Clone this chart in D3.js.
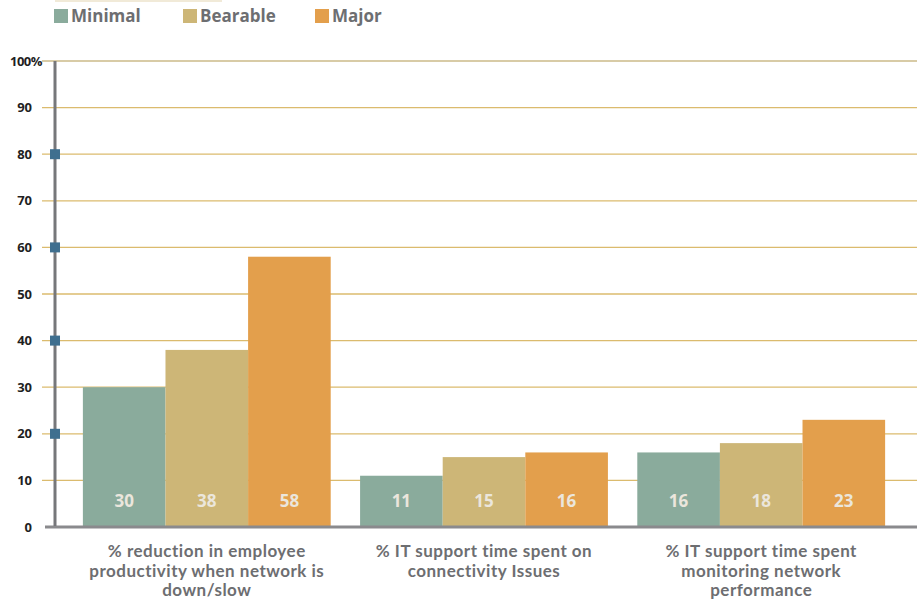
<!DOCTYPE html>
<html>
<head>
<meta charset="utf-8">
<script src="https://cdn.jsdelivr.net/npm/d3@7"></script>
<style>
  html, body { margin: 0; padding: 0; background: #fff; }
  svg { display: block; font-family: "Open Sans", "DejaVu Sans", sans-serif; }
</style>
</head>
<body>
<svg id="chart" width="917" height="602"></svg>
<script>
// Survey categories (each may wrap onto several lines)
const categories = [
  ["% reduction in employee", "productivity when network is", "down/slow"],
  ["% IT support time spent on", "connectivity Issues"],
  ["% IT support time spent", "monitoring network", "performance"]
];
const seriesNames = ["Minimal", "Bearable", "Major"];
const minimalValues  = [30, 11, 16];
const bearableValues = [38, 15, 18];
const majorValues    = [58, 16, 23];
const yTicks = [0, 10, 20, 30, 40, 50, 60, 70, 80, 90, 100];
const markerTicks = [20, 40, 60, 80];

const colors = ["#8aab9c", "#cdb677", "#e39f4c"];
const series = [minimalValues, bearableValues, majorValues];

const svg = d3.select("#chart");

const y = d3.scaleLinear().domain([0, 100]).range([527, 61]);
const x0 = d3.scaleBand().domain(d3.range(categories.length))
  .range([51, 917]).paddingInner(0.106).paddingOuter(0.115);
const x1 = d3.scaleBand().domain(d3.range(seriesNames.length))
  .range([0, x0.bandwidth()]);
const color = d3.scaleOrdinal().domain(seriesNames).range(colors);

// thin rule along the top
svg.append("line").attr("x1", 55).attr("x2", 222).attr("y1", 1).attr("y2", 1)
  .attr("stroke", "#f1ead8").attr("stroke-width", 2);

// Gridlines
svg.append("g").selectAll("line").data(yTicks.filter(d => d > 0))
  .join("line")
  .attr("x1", 42).attr("x2", 917)
  .attr("y1", d => y(d)).attr("y2", d => y(d))
  .attr("stroke", d => d === 100 ? "#d8cba6" : "#dbbb6e")
  .attr("stroke-width", d => d === 100 ? 2 : 1.3);

// Bars
const groups = svg.append("g").selectAll("g").data(categories)
  .join("g")
  .attr("transform", (d, i) => `translate(${x0(i)},0)`);

groups.selectAll("rect")
  .data((d, i) => series.map((s, k) => ({ k, v: s[i] })))
  .join("rect")
  .attr("x", d => x1(d.k))
  .attr("width", x1.bandwidth())
  .attr("y", d => y(d.v))
  .attr("height", d => y(0) - y(d.v))
  .attr("fill", d => color(seriesNames[d.k]));

groups.selectAll("text.val")
  .data((d, i) => series.map((s, k) => ({ k, v: s[i] })))
  .join("text")
  .attr("class", "val")
  .attr("x", d => x1(d.k) + x1.bandwidth() / 2)
  .attr("y", 507)
  .attr("text-anchor", "middle")
  .attr("font-size", 17)
  .attr("font-weight", 700)
  .attr("fill", "#ebe6dc")
  .text(d => d.v);

// Axes lines
svg.append("line").attr("x1", 45).attr("x2", 917)
  .attr("y1", y(0)).attr("y2", y(0))
  .attr("stroke", "#8a8a8d").attr("stroke-width", 3);
svg.append("line").attr("x1", 55).attr("x2", 55)
  .attr("y1", y(100)).attr("y2", y(0) - 1)
  .attr("stroke", "#76777a").attr("stroke-width", 3);

// Marker squares on the vertical axis
svg.append("g").selectAll("rect").data(markerTicks)
  .join("rect")
  .attr("x", 50).attr("y", d => y(d) - 5)
  .attr("width", 10).attr("height", 10)
  .attr("fill", "#3f6f8f");

// Y tick labels
const yl = svg.append("g").selectAll("text").data(yTicks)
  .join("text")
  .attr("x", 32)
  .attr("y", d => y(d) + 4.5)
  .attr("text-anchor", d => d === 100 ? "start" : "end")
  .attr("font-size", 13)
  .attr("font-weight", 700)
  .attr("fill", "#1f1f1f");
yl.filter(d => d !== 100).text(d => d);
yl.filter(d => d === 100).attr("x", 10).attr("letter-spacing", -0.5).text(d => d + "%");

// Category labels, one text element per line
const catG = svg.append("g").selectAll("g").data(categories)
  .join("g")
  .attr("transform", (d, i) => `translate(${x0(i) + x0.bandwidth() / 2},557)`);
catG.selectAll("text").data(d => d)
  .join("text")
  .attr("x", 0)
  .attr("y", (d, j) => j * 19.5)
  .attr("text-anchor", "middle")
  .attr("font-family", "Lato, 'Open Sans', sans-serif")
  .attr("font-size", 17)
  .attr("font-weight", 700)
  .attr("letter-spacing", 0.5)
  .attr("fill", "#6d6e71")
  .text(d => d);

// Legend
const legendX = [54, 183, 315];
const legend = svg.append("g").selectAll("g").data(seriesNames)
  .join("g")
  .attr("transform", (d, i) => `translate(${legendX[i]},9)`);
legend.append("rect").attr("width", 14).attr("height", 14)
  .attr("fill", d => color(d));
legend.append("text").attr("x", 17).attr("y", 13)
  .attr("font-size", 17).attr("font-weight", 700)
  .attr("fill", "#6d6e71")
  .text(d => d);
</script>
</body>
</html>
